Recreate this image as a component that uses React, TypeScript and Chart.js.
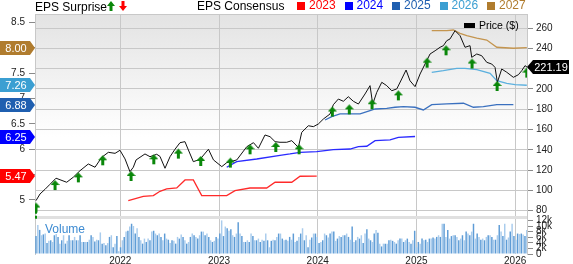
import React, { useEffect, useRef } from 'react';
import { Chart, registerables } from 'chart.js';

Chart.register(...registerables);

const FONT = "'Liberation Sans', Arial, Helvetica, sans-serif";

// ---- axis ticks ----
const yearTicks = [2022, 2023, 2024, 2025, 2026];
const priceTicks = [80, 100, 120, 140, 160, 180, 200, 220, 240, 260];
const epsTicks = [5, 5.5, 6, 6.5, 7, 7.5, 8, 8.5];
const volumeTicks = [0, 2, 4, 6, 8, 10, 12];

// ---- price ($), [decimal year, price] ----
const priceSeries: [number, number][] = [
  [2021.146, 89.9], [2021.187, 96.5], [2021.237, 101], [2021.288, 106], [2021.349, 112],
  [2021.389, 110.5], [2021.457, 108], [2021.524, 113], [2021.592, 119.4], [2021.676, 126],
  [2021.744, 122.8], [2021.812, 132.6], [2021.879, 137.5], [2021.947, 136.5], [2021.997, 139.5],
  [2022.048, 131], [2022.098, 118.4], [2022.132, 122.8], [2022.160, 130], [2022.250, 135.9],
  [2022.301, 133.2], [2022.369, 135.6], [2022.402, 133.5], [2022.453, 121.8], [2022.504, 133.2],
  [2022.554, 140.5], [2022.605, 147], [2022.655, 148], [2022.690, 139.8], [2022.740, 128.3],
  [2022.808, 130.6], [2022.893, 140.5], [2022.944, 130], [2023.028, 123.4], [2023.078, 127.3],
  [2023.180, 130], [2023.281, 143], [2023.349, 147], [2023.399, 141.5], [2023.466, 154.6],
  [2023.517, 152.9], [2023.568, 148], [2023.618, 147.4], [2023.686, 147.4], [2023.737, 149],
  [2023.770, 145.7], [2023.804, 142.4], [2023.838, 157.2], [2023.905, 163.7], [2023.956, 162.8],
  [2024.006, 165.4], [2024.057, 170.3], [2024.125, 175.3], [2024.158, 184.4], [2024.209, 190],
  [2024.260, 187.8], [2024.310, 192.3], [2024.361, 187.8], [2024.412, 185.1], [2024.479, 195],
  [2024.530, 203.2], [2024.557, 185], [2024.598, 196.6], [2024.649, 206.5], [2024.699, 203.2],
  [2024.750, 198.2], [2024.801, 200], [2024.851, 209.8], [2024.895, 218.6], [2024.935, 208],
  [2024.986, 202.2], [2025.037, 214.7], [2025.087, 224.5], [2025.138, 234.4], [2025.189, 237.6],
  [2025.239, 241], [2025.273, 242.6], [2025.307, 247.5], [2025.340, 249.2], [2025.391, 257.4],
  [2025.442, 252.4], [2025.492, 241], [2025.543, 242.6], [2025.560, 231.1], [2025.611, 234.4],
  [2025.661, 232.7], [2025.712, 226.2], [2025.763, 224.5], [2025.796, 221.2], [2025.820, 206.5],
  [2025.864, 219.6], [2025.915, 216.4], [2025.982, 211.4], [2026.033, 214], [2026.067, 218],
  [2026.100, 222.9], [2026.124, 221.19],
];

// ---- EPS consensus by fiscal year, [decimal year, EPS] ----
const eps2023: [number, number][] = [
  [2022.081, 4.986], [2022.233, 5.073], [2022.335, 5.085], [2022.402, 5.171], [2022.470, 5.217],
  [2022.572, 5.236], [2022.656, 5.394], [2022.740, 5.394], [2022.825, 5.085], [2023.078, 5.085],
  [2023.162, 5.183], [2023.314, 5.236], [2023.483, 5.236], [2023.568, 5.349], [2023.737, 5.349],
  [2023.821, 5.467], [2023.990, 5.47],
];
const eps2024: [number, number][] = [
  [2023.078, 5.644], [2023.179, 5.754], [2023.382, 5.807], [2023.618, 5.88], [2023.719, 5.906],
  [2023.821, 5.939], [2023.990, 5.951], [2024.158, 5.991], [2024.327, 6.004], [2024.412, 6.05],
  [2024.497, 6.058], [2024.581, 6.168], [2024.733, 6.182], [2024.817, 6.235], [2024.986, 6.25],
];
const eps2025: [number, number][] = [
  [2024.074, 6.576], [2024.142, 6.641], [2024.226, 6.694], [2024.429, 6.694], [2024.530, 6.759],
  [2024.581, 6.792], [2024.699, 6.806], [2024.783, 6.826], [2024.868, 6.838], [2024.986, 6.826],
  [2025.070, 6.773], [2025.155, 6.877], [2025.307, 6.891], [2025.476, 6.905], [2025.577, 6.826],
  [2025.678, 6.838], [2025.814, 6.877], [2025.982, 6.88],
];
const eps2026: [number, number][] = [
  [2025.155, 7.515], [2025.273, 7.547], [2025.408, 7.594], [2025.492, 7.594], [2025.611, 7.566],
  [2025.746, 7.496], [2025.814, 7.35], [2025.915, 7.298], [2025.999, 7.271], [2026.118, 7.26],
];
const eps2027: [number, number][] = [
  [2025.155, 8.335], [2025.307, 8.335], [2025.374, 8.348], [2025.442, 8.283], [2025.510, 8.236],
  [2025.611, 8.19], [2025.712, 8.151], [2025.814, 8.008], [2025.982, 7.988], [2026.118, 8.0],
];

const consensusYears = ['2023', '2024', '2025', '2026', '2027'];
const consensusSeries = [eps2023, eps2024, eps2025, eps2026, eps2027];
const consensusColors = ['#ff0000', '#0000ff', '#1f5fb0', '#3b9fd2', '#b07c2e'];
const consensusLineColors = ['#ff2a2a', '#2a2aff', '#3a70bf', '#5cb0de', '#c4954f'];

// ---- EPS surprise (beat) markers ----
const surpriseDates = [
  2021.146, 2021.339, 2021.575, 2021.822, 2022.109, 2022.339, 2022.588, 2022.815, 2023.115, 2023.314,
  2023.575, 2023.811, 2024.148, 2024.32, 2024.55, 2024.817, 2025.108, 2025.30, 2025.563, 2025.817, 2026.118,
];
const surprisePrices = [
  88, 110.2, 117.8, 134.6, 119.1, 135.6, 141.2, 133.9, 132.3, 145.4,
  147.7, 145.4, 182.6, 184.8, 189.8, 198.6, 230.8, 243, 229.9, 207.8, 221,
];
const firstSurpriseTail = [80, 71.8];

// ---- weekly volume (thousands) ----
const volumeStart = 2021.146;
const volumeEnd = 2026.118;
const volumeK = [
  6.4, 10.4, 8.6, 6.7, 7.0, 7.3, 3.9, 4.7, 4.9, 4.3, 6.7, 7.1, 6.1, 3.7, 4.9, 6.7, 3.7, 4.7, 6.7, 4.9,
  4.9, 6.1, 4.9, 4.9, 6.7, 4.3, 4.3, 4.3, 4.3, 5.1, 6.7, 6.1, 4.5, 5.1, 4.9, 7.7, 3.7, 3.9, 3.1, 3.9,
  6.1, 6.7, 2.4, 3.7, 6.4, 1.0, 2.4, 4.9, 6.1, 8.0, 8.3, 9.8, 10.8, 10.0, 7.3, 9.2, 6.1, 4.9, 3.7, 5.5,
  4.3, 5.5, 4.9, 8.0, 8.3, 7.3, 6.7, 7.3, 6.1, 4.9, 7.3, 5.5, 5.1, 3.9, 4.9, 4.7, 3.7, 6.1, 5.5, 7.0,
  6.1, 4.9, 3.7, 4.3, 6.1, 7.3, 6.7, 6.1, 5.5, 6.7, 8.0, 8.0, 6.7, 7.3, 6.1, 4.9, 4.3, 4.7, 6.1, 5.5,
  7.3, 12.0, 6.4, 9.8, 9.2, 8.3, 8.8, 6.7, 6.1, 7.3, 11.3, 7.3, 6.4, 4.3, 4.3, 4.9, 4.3, 7.3, 6.4, 4.9,
  4.9, 5.5, 4.3, 5.1, 4.7, 7.3, 4.9, 2.4, 4.7, 5.1, 4.9, 6.1, 7.3, 7.3, 5.5, 4.9, 5.1, 4.7, 6.1, 5.1,
  7.3, 4.3, 4.7, 6.1, 7.3, 9.2, 4.9, 6.7, 2.4, 5.1, 5.9, 7.3, 7.3, 6.1, 3.9, 4.3, 4.9, 7.3, 6.7, 5.9,
  7.3, 8.0, 8.0, 4.7, 5.5, 6.4, 6.1, 6.7, 6.7, 7.3, 6.1, 5.1, 9.8, 4.3, 4.9, 6.1, 5.5, 6.7, 3.9, 7.3,
  8.8, 5.5, 4.9, 4.3, 7.3, 8.6, 7.6, 3.7, 2.7, 3.7, 3.7, 3.7, 4.9, 5.1, 4.7, 4.3, 3.7, 4.9, 5.5, 5.5,
  4.3, 4.9, 5.5, 4.3, 3.7, 4.9, 8.3, 2.4, 4.3, 3.7, 5.5, 4.9, 5.1, 4.3, 5.5, 5.5, 5.9, 5.5, 6.1, 6.7,
  6.1, 10.8, 10.8, 6.1, 8.6, 5.5, 6.4, 6.7, 6.7, 6.1, 4.9, 5.5, 6.7, 4.9, 8.0, 7.3, 6.7, 8.0, 10.8, 5.5,
  7.3, 6.1, 5.1, 5.5, 4.9, 6.1, 6.7, 6.7, 6.1, 5.1, 5.1, 6.7, 10.4, 8.0, 6.4, 10.8, 5.1, 5.9, 8.0, 10.8,
  6.4, 5.1, 7.3, 7.1, 7.3, 7.0, 6.4, 8.6,
];

function makeArrow(): HTMLCanvasElement {
  const c = document.createElement('canvas');
  c.width = 9;
  c.height = 22;
  const a = c.getContext('2d')!;
  a.fillStyle = '#0a870a';
  a.beginPath();
  a.moveTo(4.5, 11);
  a.lineTo(9, 16);
  a.lineTo(6, 16);
  a.lineTo(6, 21);
  a.lineTo(3, 21);
  a.lineTo(3, 16);
  a.lineTo(0, 16);
  a.closePath();
  a.fill();
  return c;
}

const decorPlugin = {
  id: 'decor',
  beforeDraw(chart: any) {
    const { ctx, chartArea: a, scales } = chart;
    const p = scales.yPrice;
    ctx.save();
    ctx.fillStyle = '#ffffff';
    ctx.fillRect(0, 0, chart.width, chart.height);
    const g = ctx.createLinearGradient(0, p.top, 0, p.top + (p.bottom - p.top) * 0.6);
    g.addColorStop(0, '#e3e3e3');
    g.addColorStop(1, '#ffffff');
    ctx.fillStyle = g;
    ctx.fillRect(a.left, p.top, a.right - a.left, p.bottom - p.top);
    ctx.restore();
  },
  beforeDatasetsDraw(chart: any) {
    const { ctx, chartArea: a, scales } = chart;
    const p = scales.yPrice;
    ctx.save();
    ctx.fillStyle = '#e0e0e0';
    ctx.fillRect(a.left, p.bottom - 3, a.right - a.left, 3);
    ctx.strokeStyle = '#c8c8c8';
    ctx.lineWidth = 1;
    ctx.beginPath();
    ctx.moveTo(a.left, a.top + 0.5);
    ctx.lineTo(a.right, a.top + 0.5);
    ctx.stroke();
    ctx.restore();
  },
  afterDraw(chart: any) {
    const { ctx, chartArea: a, scales } = chart;
    const eps = scales.yEps;
    const pr = scales.yPrice;
    ctx.save();
    ctx.font = `11px ${FONT}`;
    ctx.textBaseline = 'middle';
    ctx.textAlign = 'center';
    consensusSeries.forEach((s, i) => {
      const v = s[s.length - 1][1];
      const y = Math.round(eps.getPixelForValue(v));
      const tip = a.left;
      ctx.fillStyle = consensusColors[i];
      ctx.beginPath();
      ctx.moveTo(0, y - 7);
      ctx.lineTo(tip - 5, y - 7);
      ctx.lineTo(tip, y);
      ctx.lineTo(tip - 5, y + 7);
      ctx.lineTo(0, y + 7);
      ctx.closePath();
      ctx.fill();
      ctx.fillStyle = '#ffffff';
      ctx.fillText(v.toFixed(2), (tip - 5) / 2 + 1, y + 0.5);
    });
    const last = priceSeries[priceSeries.length - 1][1];
    const y = Math.round(pr.getPixelForValue(last));
    const x0 = a.right;
    const x1 = 569;
    ctx.fillStyle = '#000000';
    ctx.beginPath();
    ctx.moveTo(x0, y);
    ctx.lineTo(x0 + 6, y - 7);
    ctx.lineTo(x1, y - 7);
    ctx.lineTo(x1, y + 7);
    ctx.lineTo(x0 + 6, y + 7);
    ctx.closePath();
    ctx.fill();
    ctx.fillStyle = '#ffffff';
    ctx.fillText(last.toFixed(2), (x0 + 6 + x1) / 2, y + 0.5);
    ctx.restore();
  },
};

export default function App() {
  const ref = useRef<HTMLCanvasElement>(null);

  useEffect(() => {
    const canvas = ref.current!;
    Chart.defaults.font.family = FONT;
    const arrow = makeArrow();
    const volStep = (volumeEnd - volumeStart) / (volumeK.length - 1);
    const volData = volumeK.map((v, i) => ({ x: volumeStart + i * volStep, y: v }));
    const tickFont = { size: 10, family: FONT };

    const datasets: any[] = [
      {
        type: 'line',
        label: 'EPS Surprise',
        data: surpriseDates.map((x, i) => ({ x, y: surprisePrices[i] })),
        yAxisID: 'yPrice',
        showLine: false,
        pointStyle: arrow,
        pointRadius: 5,
        order: 0,
      },
      {
        type: 'line',
        label: 'tail',
        data: firstSurpriseTail.map((y) => ({ x: surpriseDates[0], y })),
        yAxisID: 'yPrice',
        borderColor: '#0a870a',
        borderWidth: 2,
        borderDash: [3, 2],
        pointRadius: 0,
        order: 0,
      },
      {
        type: 'line',
        label: 'Price ($)',
        data: priceSeries.map(([x, y]) => ({ x, y })),
        yAxisID: 'yPrice',
        borderColor: '#111111',
        borderWidth: 1,
        pointRadius: 0,
        tension: 0,
        order: 1,
      },
      ...consensusSeries.map((s, i) => ({
        type: 'line',
        label: consensusYears[i],
        data: s.map(([x, y]) => ({ x, y })),
        yAxisID: 'yEps',
        borderColor: consensusLineColors[i],
        borderWidth: 1.3,
        pointRadius: 0,
        tension: 0,
        order: 2,
      })),
      {
        type: 'bar',
        label: 'Volume',
        data: volData,
        yAxisID: 'yVol',
        backgroundColor: volData.map((_, i) => (i % 2 ? '#a9cced' : '#5e9cd6')),
        barPercentage: 1,
        categoryPercentage: 0.8,
        order: 3,
      },
    ];

    const chart = new Chart(canvas, {
      type: 'line',
      data: { datasets },
      plugins: [decorPlugin],
      options: {
        animation: false,
        responsive: false,
        devicePixelRatio: 1,
        layout: { padding: { top: 14, left: 0, right: 0, bottom: 0 } },
        plugins: { legend: { display: false }, tooltip: { enabled: false } },
        scales: {
          x: {
            type: 'linear',
            position: 'bottom',
            min: 2021.136,
            max: 2026.12,
            offset: false,
            afterBuildTicks: (ax: any) => { ax.ticks = yearTicks.map((value) => ({ value })); },
            afterFit: (ax: any) => { ax.height = 10; },
            ticks: { autoSkip: false, maxRotation: 0, padding: 1, color: '#222', font: tickFont, callback: (v: any) => String(v) },
            grid: { color: '#c8c8c8', drawTicks: false, offset: false },
            border: { display: false },
          },
          yPrice: {
            type: 'linear',
            position: 'right',
            stack: 'right',
            stackWeight: 205,
            min: 71.8,
            max: 273.8,
            afterBuildTicks: (ax: any) => { ax.ticks = priceTicks.map((value) => ({ value })); },
            afterFit: (ax: any) => { ax.width = 46; },
            ticks: { autoSkip: false, padding: 3, color: '#222', font: tickFont, callback: (v: any) => String(v) },
            grid: { color: '#c8c8c8', tickColor: '#8a8a8a', tickLength: 6 },
            border: { display: true, color: '#c8c8c8' },
          },
          yVol: {
            type: 'linear',
            position: 'right',
            stack: 'right',
            stackWeight: 35,
            min: 0,
            max: 12.5,
            afterBuildTicks: (ax: any) => { ax.ticks = volumeTicks.map((value) => ({ value })); },
            afterFit: (ax: any) => { ax.width = 46; },
            ticks: { autoSkip: false, padding: 3, color: '#222', font: tickFont, callback: (v: any) => (v === 0 ? '0' : `${v}k`) },
            grid: { drawOnChartArea: false, tickColor: '#8a8a8a', tickLength: 6 },
            border: { display: true, color: '#c8c8c8' },
          },
          yEps: {
            type: 'linear',
            position: 'left',
            min: 3.936,
            max: 8.663,
            afterBuildTicks: (ax: any) => { ax.ticks = epsTicks.map((value) => ({ value })); },
            afterFit: (ax: any) => { ax.width = 35; },
            ticks: { autoSkip: false, padding: 4, color: '#222', font: tickFont, callback: (v: any) => String(v) },
            grid: { drawOnChartArea: false, tickColor: '#8a8a8a', tickLength: 6 },
            border: { display: true, color: '#c8c8c8' },
          },
        },
      } as any,
    });
    return () => chart.destroy();
  }, []);

  const legendLeft = [297, 344.5, 392, 439.5, 487];

  return (
    <div style={{ position: 'absolute', left: 0, top: 0, width: 573, height: 264, fontFamily: FONT, background: '#fff', overflow: 'hidden' }}>
      <canvas ref={ref} width={573} height={264} style={{ position: 'absolute', left: 0, top: 0, width: 573, height: 264 }} />
      <div style={{ position: 'absolute', left: 35, top: 1, fontSize: 12, lineHeight: '12px', color: '#000', whiteSpace: 'nowrap' }}>EPS Surprise</div>
      <svg style={{ position: 'absolute', left: 107, top: 1 }} width={20} height={11}>
        <path d="M4 0 L8 5 L5.5 5 L5.5 10 L2.5 10 L2.5 5 L0 5 Z" fill="#0a870a" />
        <path d="M16 10 L20 5 L17.5 5 L17.5 0 L14.5 0 L14.5 5 L12 5 Z" fill="#ff0000" />
      </svg>
      <div style={{ position: 'absolute', left: 197, top: 0, fontSize: 12, lineHeight: '12px', color: '#000', whiteSpace: 'nowrap' }}>EPS Consensus</div>
      {consensusYears.map((yr, i) => (
        <div key={yr} style={{ position: 'absolute', left: legendLeft[i], top: -1, height: 12, display: 'flex', alignItems: 'center', whiteSpace: 'nowrap' }}>
          <div style={{ width: 8, height: 8, background: consensusColors[i], marginRight: 4, marginTop: 2 }} />
          <span style={{ fontSize: 12, lineHeight: '12px', color: consensusColors[i] }}>{yr}</span>
        </div>
      ))}
      <div style={{ position: 'absolute', left: 464, top: 23, width: 11, height: 5, background: '#000' }} />
      <div style={{ position: 'absolute', left: 479, top: 20, fontSize: 10.5, lineHeight: '11px', color: '#000', whiteSpace: 'nowrap' }}>Price ($)</div>
      <div style={{ position: 'absolute', left: 45, top: 223, fontSize: 12, lineHeight: '12px', color: '#3d8bd2', whiteSpace: 'nowrap' }}>Volume</div>
    </div>
  );
}
